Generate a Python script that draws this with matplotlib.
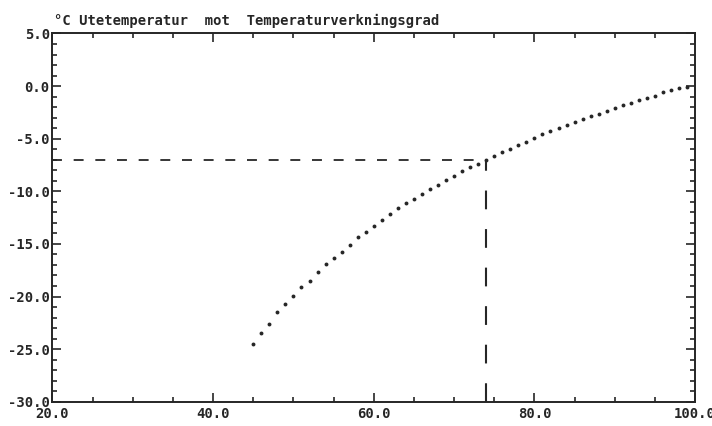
import numpy as np
import matplotlib
matplotlib.use("Agg")
import matplotlib.pyplot as plt
from matplotlib.ticker import MultipleLocator, FormatStrFormatter

# Temperaturverkningsgrad (%) mot utetemperatur (°C)
verkningsgrad = np.arange(45, 100)
utetemp = [-24.5, -23.45, -22.59, -21.51, -20.68, -19.99, -19.13, -18.50, -17.67, -16.95,
           -16.31, -15.77, -15.10, -14.38, -13.86, -13.26, -12.69, -12.15, -11.58, -11.10,
           -10.76, -10.25, -9.74, -9.38, -8.96, -8.54, -8.08, -7.72, -7.36, -7.00,
           -6.63, -6.27, -5.98, -5.59, -5.29, -4.90, -4.54, -4.25, -4.03, -3.70,
           -3.38, -3.15, -2.82, -2.63, -2.33, -2.11, -1.82, -1.62, -1.30, -1.11,
           -0.91, -0.58, -0.39, -0.19, -0.07]

# Avläsningspunkt (streckade linjer)
avlast_x = 74.0
avlast_y = -7.05

titel = "°C Utetemperatur  mot  Temperaturverkningsgrad"

ink = "#262626"
plt.rcParams['font.family'] = ['DejaVu Sans Mono']
plt.rcParams['font.weight'] = 'bold'

fig = plt.figure(figsize=(7.12, 4.26), dpi=100)
ax = fig.add_axes([0.0737, 0.057, 0.9025, 0.8644])

ax.plot(verkningsgrad, utetemp, linestyle='none', marker='o', markersize=2.8,
        color=ink, markeredgewidth=0)

# streckade hjälplinjer
ax.plot([20, avlast_x], [avlast_y, avlast_y], color=ink, lw=1.3,
        linestyle=(0, (5.5, 6.5)))
ax.plot([avlast_x, avlast_x], [-30, avlast_y], color=ink, lw=1.5,
        linestyle=(0, (9, 9.5)))

ax.set_xlim(20, 100)
ax.set_ylim(-30, 5)
ax.xaxis.set_major_locator(MultipleLocator(20))
ax.xaxis.set_minor_locator(MultipleLocator(5))
ax.yaxis.set_major_locator(MultipleLocator(5))
ax.yaxis.set_minor_locator(MultipleLocator(1))
ax.xaxis.set_major_formatter(FormatStrFormatter('%.1f'))
ax.yaxis.set_major_formatter(FormatStrFormatter('%.1f'))

ax.tick_params(which='both', direction='in', top=True, right=True,
               colors=ink, width=1.2, labelsize=10)
ax.tick_params(which='major', length=6.5)
ax.tick_params(which='minor', length=3.5)
ax.tick_params(axis='y', pad=2)
ax.tick_params(axis='x', pad=4)

for sp in ax.spines.values():
    sp.set_linewidth(1.4)
    sp.set_color(ink)

fig.text(0.076, 1 - 25 / 426, titel, fontsize=10, color=ink, va='baseline', ha='left')

fig.savefig("out.png", dpi=100, facecolor='white')
